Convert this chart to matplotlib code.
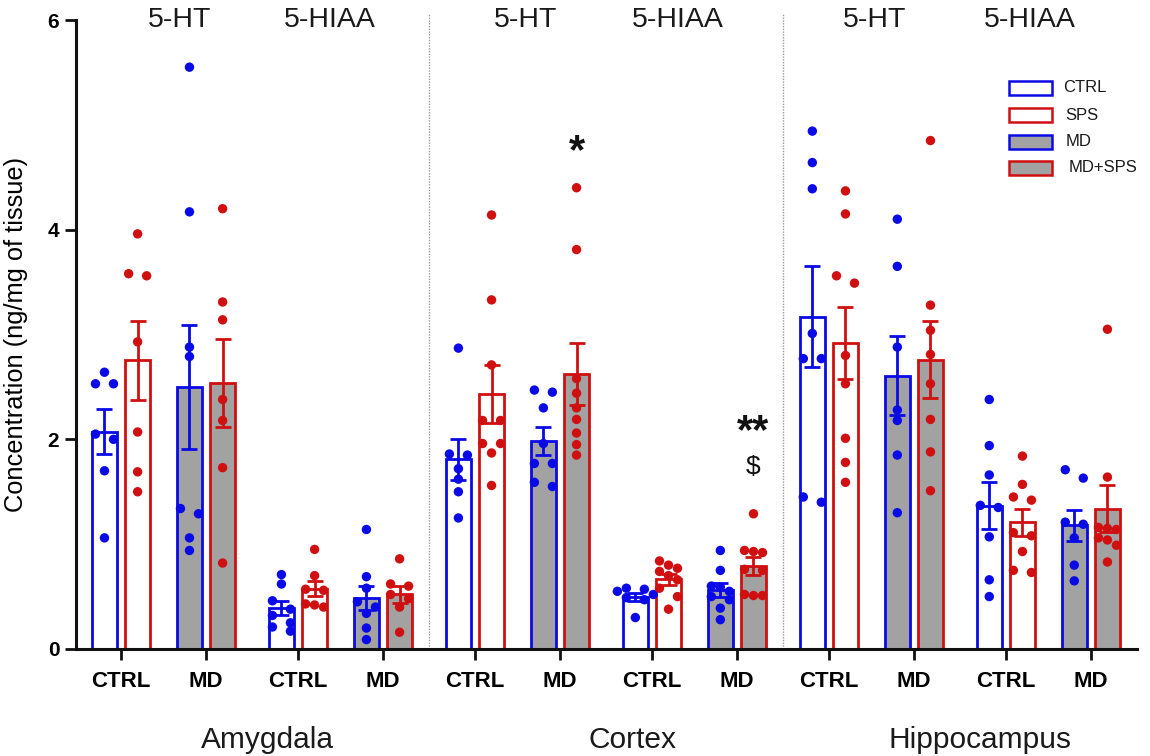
import numpy as np
import matplotlib
matplotlib.use("Agg")
import matplotlib.pyplot as plt
from matplotlib.patches import Rectangle

plt.rcParams["font.family"] = ["Liberation Sans", "DejaVu Sans"]

# ---- labels -------------------------------------------------------------
regions = ["Amygdala", "Cortex", "Hippocampus"]
analytes = ["5-HT", "5-HIAA"]
rearing = ["CTRL", "MD"]
legend_labels = ["CTRL", "SPS", "MD", "MD+SPS"]

# ---- individual animals (ng/mg of tissue) -------------------------------
# Amygdala, 5-HT
amy_ht_ctrl = [2.64, 2.53, 2.53, 2.05, 2.00, 1.70, 1.06]
amy_ht_sps = [3.96, 3.58, 3.56, 2.93, 2.07, 1.69, 1.50]
amy_ht_md = [5.55, 4.17, 2.88, 2.79, 1.34, 1.29, 1.06, 0.94]
amy_ht_mdsps = [4.20, 3.31, 3.14, 2.38, 2.18, 1.73, 0.82]
# Amygdala, 5-HIAA
amy_hiaa_ctrl = [0.71, 0.62, 0.46, 0.38, 0.32, 0.25, 0.21, 0.17]
amy_hiaa_sps = [0.95, 0.70, 0.57, 0.56, 0.43, 0.42, 0.40]
amy_hiaa_md = [1.14, 0.69, 0.58, 0.45, 0.40, 0.34, 0.20, 0.09]
amy_hiaa_mdsps = [0.86, 0.62, 0.60, 0.52, 0.48, 0.40, 0.16]
# Cortex, 5-HT
ctx_ht_ctrl = [2.87, 1.86, 1.85, 1.72, 1.62, 1.50, 1.25]
ctx_ht_sps = [4.14, 3.33, 2.71, 2.18, 2.18, 1.96, 1.96, 1.87, 1.56]
ctx_ht_md = [2.47, 2.45, 2.30, 1.96, 1.77, 1.77, 1.59, 1.55]
ctx_ht_mdsps = [4.40, 3.81, 2.58, 2.44, 2.30, 2.19, 2.06, 1.95, 1.85]
# Cortex, 5-HIAA
ctx_hiaa_ctrl = [0.58, 0.57, 0.55, 0.52, 0.49, 0.47, 0.30]
ctx_hiaa_sps = [0.84, 0.80, 0.77, 0.74, 0.70, 0.66, 0.58, 0.50, 0.38]
ctx_hiaa_md = [0.94, 0.75, 0.60, 0.59, 0.55, 0.50, 0.47, 0.39, 0.28]
ctx_hiaa_mdsps = [1.29, 0.94, 0.93, 0.92, 0.76, 0.75, 0.52, 0.51, 0.51]
# Hippocampus, 5-HT
hip_ht_ctrl = [4.94, 4.64, 4.39, 3.01, 2.77, 2.77, 1.45, 1.40]
hip_ht_sps = [4.37, 4.15, 3.56, 3.49, 2.80, 2.53, 2.01, 1.78, 1.59]
hip_ht_md = [4.10, 3.65, 2.88, 2.28, 2.18, 1.85, 1.30]
hip_ht_mdsps = [4.85, 3.28, 3.04, 2.81, 2.53, 2.19, 1.88, 1.51]
# Hippocampus, 5-HIAA
hip_hiaa_ctrl = [2.38, 1.94, 1.66, 1.37, 1.35, 1.07, 0.66, 0.50]
hip_hiaa_sps = [1.84, 1.57, 1.45, 1.42, 1.11, 1.08, 0.93, 0.75, 0.73]
hip_hiaa_md = [1.71, 1.63, 1.21, 1.19, 1.06, 0.80, 0.65]
hip_hiaa_mdsps = [3.05, 1.64, 1.16, 1.15, 1.14, 1.06, 1.04, 0.99, 0.83]

# (no stress, SPS) pairs in axis order
groups = [
    (amy_ht_ctrl, amy_ht_sps), (amy_ht_md, amy_ht_mdsps),
    (amy_hiaa_ctrl, amy_hiaa_sps), (amy_hiaa_md, amy_hiaa_mdsps),
    (ctx_ht_ctrl, ctx_ht_sps), (ctx_ht_md, ctx_ht_mdsps),
    (ctx_hiaa_ctrl, ctx_hiaa_sps), (ctx_hiaa_md, ctx_hiaa_mdsps),
    (hip_ht_ctrl, hip_ht_sps), (hip_ht_md, hip_ht_mdsps),
    (hip_hiaa_ctrl, hip_hiaa_sps), (hip_hiaa_md, hip_hiaa_mdsps),
]

# significance marks: (group index, side, text, y, fontsize, weight)
annotations = [
    (5, 1, "*", 4.74, 30, "bold"),
    (7, 1, "**", 2.07, 30, "bold"),
    (7, 1, "$", 1.74, 19, "normal"),
]

BLUE = "#0a0ae6"
RED = "#d01010"
GRAY = "#a2a2a2"

# ---- figure -------------------------------------------------------------
W, H, DPI = 1150, 756, 100
fig = plt.figure(figsize=(W / DPI, H / DPI), dpi=DPI)
ax_l, ax_r, ax_t, ax_b = 76, 1137, 20, 649
ax = fig.add_axes([ax_l / W, 1 - ax_b / H, (ax_r - ax_l) / W, (ax_b - ax_t) / H])

n_groups = len(groups)
gap = 0.082
xpos = np.array([k + gap * (k // 2) for k in range(n_groups)])
x0, x1 = -0.53, 11.953
ax.set_xlim(x0, x1)
ax.set_ylim(0, 6)

px_per_x = (ax_r - ax_l) / (x1 - x0)
px_per_y = (ax_b - ax_t) / 6.0

offset = 0.195
bar_w = 0.29
dot_d = 9.0  # px


def swarm(vals):
    """Row-wise horizontal spread of points (returns x offsets in data units)."""
    vals = np.asarray(vals, float)
    order = np.argsort(-vals)
    offs = np.zeros(len(vals))
    rows, cur = [], [order[0]]
    for i in order[1:]:
        if (vals[cur[0]] - vals[i]) * px_per_y < dot_d * 0.95:
            cur.append(i)
        else:
            rows.append(cur)
            cur = [i]
    rows.append(cur)
    for row in rows:
        n = len(row)
        if n % 2:
            slots = [(j - (n - 1) / 2) for j in range(n)]
        else:
            slots = []
            for j in range(n // 2):
                slots += [-(j + 1), (j + 1)]
        for i, s in zip(row, slots):
            offs[i] = s * dot_d / px_per_x
    return offs


for k, (plain, stressed) in enumerate(groups):
    filled = (k % 2 == 1)
    for vals, side, col in ((plain, -1, BLUE), (stressed, 1, RED)):
        vals = np.asarray(vals, float)
        x = xpos[k] + side * offset
        m = vals.mean()
        se = vals.std(ddof=1) / np.sqrt(len(vals))
        ax.bar(x, m, width=bar_w, facecolor=GRAY if filled else "white",
               edgecolor=col, linewidth=2.0, zorder=2)
        ax.errorbar(x, m, yerr=se, fmt="none", ecolor=col, elinewidth=2.0,
                    capsize=5.5, capthick=2.0, zorder=3)
        ax.scatter(x + swarm(vals), vals, s=46, color=col, edgecolors="none",
                   zorder=4, clip_on=False)

for k, side, txt, y, fs, wt in annotations:
    ax.text(xpos[k] + side * offset, y, txt, ha="center", va="center",
            fontsize=fs, fontweight=wt, color="#111111", zorder=5)

# region separators
for r in (1, 2):
    xs = (xpos[4 * r - 1] + xpos[4 * r]) / 2
    ax.plot([xs, xs], [0, 6.07], color="#9a9a9a", lw=1.0, ls=(0, (1, 1)),
            clip_on=False, zorder=1)

# axes styling
for s in ("top", "right"):
    ax.spines[s].set_visible(False)
for s in ("left", "bottom"):
    ax.spines[s].set_linewidth(2.2)
    ax.spines[s].set_color("#111111")
ax.set_yticks([0, 2, 4, 6])
ax.set_yticklabels(["0", "2", "4", "6"], fontsize=15, fontweight="bold")
ax.set_xticks(xpos)
ax.set_xticklabels([rearing[k % 2] for k in range(n_groups)], fontsize=16,
                   fontweight="bold")
ax.tick_params(axis="both", length=8, width=2.0, color="#111111", pad=4)
ax.tick_params(axis="x", pad=8)
ax.set_ylabel("Concentration (ng/mg of tissue)", fontsize=18.3, labelpad=14)

# analyte headers and region names
hdr_nudge = [(0.19, -0.12), (0.09, -0.2), (0.04, -0.22)]
for r in range(3):
    c_ht = (xpos[4 * r] + xpos[4 * r + 1]) / 2
    c_hiaa = (xpos[4 * r + 2] + xpos[4 * r + 3]) / 2
    ax.text(c_ht + hdr_nudge[r][0], 1.0, analytes[0], transform=ax.get_xaxis_transform(),
            ha="center", va="center", fontsize=20.5, color="#1a1a1a")
    ax.text(c_hiaa + hdr_nudge[r][1], 1.0, analytes[1], transform=ax.get_xaxis_transform(),
            ha="center", va="center", fontsize=20.5, color="#1a1a1a")

region_x = [267, 632, 980]
for name, xp in zip(regions, region_x):
    fig.text(xp / W, 1 - 740 / H, name, ha="center", va="center", fontsize=21.5,
             color="#1a1a1a")

# legend
edge_cols = [BLUE, RED, BLUE, RED]
fills = ["white", "white", GRAY, GRAY]
rows_y = [88, 115, 142, 168]
text_x = [1063, 1065, 1066, 1069]
for lab, ec, fc, yy, tx in zip(legend_labels, edge_cols, fills, rows_y, text_x):
    fig.add_artist(Rectangle(((1009) / W, 1 - (yy + 7) / H), 43 / W, 14 / H,
                             facecolor=fc, edgecolor=ec, linewidth=1.8,
                             transform=fig.transFigure))
    fig.text(tx / W, 1 - yy / H, lab, ha="left", va="center", fontsize=12,
             color="#1a1a1a")

fig.savefig("out.png", dpi=DPI, facecolor="white")
